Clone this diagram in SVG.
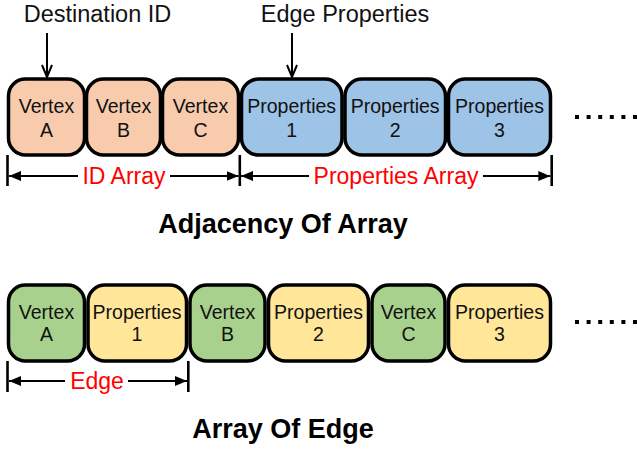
<svg xmlns="http://www.w3.org/2000/svg" width="637" height="451" viewBox="0 0 637 451">
<defs>
<style>
.box{stroke:#000;stroke-width:3.5}
.v{fill:#F8CBAD}.p{fill:#9DC3E6}.g{fill:#A9D18E}.y{fill:#FFE699}
.t{font-family:"Liberation Sans",Arial,sans-serif;font-size:19.5px;fill:#111;text-anchor:middle}
.lab{font-family:"Liberation Sans",Arial,sans-serif;font-size:23.5px;fill:#111;text-anchor:middle}
.red{font-family:"Liberation Sans",Arial,sans-serif;font-size:23px;fill:#FF0000;text-anchor:middle}
.title{font-family:"Liberation Sans",Arial,sans-serif;font-size:27px;font-weight:bold;fill:#000;text-anchor:middle}
.ln{stroke:#000;stroke-width:2;fill:none}
.tick{stroke:#000;stroke-width:2.6;fill:none}
.dots{stroke:#000;stroke-width:4;stroke-dasharray:4 7.6;fill:none}
</style>
<marker id="fa" viewBox="0 0 12 10" refX="12" refY="5" markerWidth="12" markerHeight="10" markerUnits="userSpaceOnUse" orient="auto">
<path d="M0,0 L12,5 L0,10 Z" fill="#000"/>
</marker>
<marker id="oa" viewBox="0 0 14 12" refX="13" refY="6" markerWidth="14" markerHeight="12" markerUnits="userSpaceOnUse" orient="auto">
<path d="M1,1 L13,6 L1,11" fill="none" stroke="#000" stroke-width="2"/>
</marker>
</defs>
<rect width="637" height="451" fill="#fff"/>

<text class="lab" x="97.5" y="22">Destination ID</text>
<text class="lab" x="345" y="22">Edge Properties</text>

<g id="adj-vA"><rect class="box v" x="8.5" y="79" width="76" height="76" rx="17"/><text class="t" x="46.5" y="113">Vertex</text><text class="t" x="46.5" y="137">A</text></g>
<g id="adj-vB"><rect class="box v" x="86.5" y="79" width="74" height="76" rx="17"/><text class="t" x="123.5" y="113">Vertex</text><text class="t" x="123.5" y="137">B</text></g>
<g id="adj-vC"><rect class="box v" x="162.5" y="79" width="76" height="76" rx="17"/><text class="t" x="200.5" y="113">Vertex</text><text class="t" x="200.5" y="137">C</text></g>
<g id="adj-p1"><rect class="box p" x="241.5" y="79" width="100.5" height="76" rx="17"/><text class="t" x="291.7" y="113">Properties</text><text class="t" x="291.7" y="137">1</text></g>
<g id="adj-p2"><rect class="box p" x="345" y="79" width="100.5" height="76" rx="17"/><text class="t" x="395.2" y="113">Properties</text><text class="t" x="395.2" y="137">2</text></g>
<g id="adj-p3"><rect class="box p" x="448.5" y="79" width="102" height="76" rx="17"/><text class="t" x="499.5" y="113">Properties</text><text class="t" x="499.5" y="137">3</text></g>

<g id="aoe-vA"><rect class="box g" x="8.5" y="285" width="76" height="76" rx="17"/><text class="t" x="46.5" y="319">Vertex</text><text class="t" x="46.5" y="341">A</text></g>
<g id="aoe-p1"><rect class="box y" x="88" y="285" width="98.5" height="76" rx="17"/><text class="t" x="137" y="319">Properties</text><text class="t" x="137" y="341">1</text></g>
<g id="aoe-vB"><rect class="box g" x="190" y="285" width="75" height="76" rx="17"/><text class="t" x="227.5" y="319">Vertex</text><text class="t" x="227.5" y="341">B</text></g>
<g id="aoe-p2"><rect class="box y" x="268.5" y="285" width="100" height="76" rx="17"/><text class="t" x="318.5" y="319">Properties</text><text class="t" x="318.5" y="341">2</text></g>
<g id="aoe-vC"><rect class="box g" x="372" y="285" width="73" height="76" rx="17"/><text class="t" x="408.5" y="319">Vertex</text><text class="t" x="408.5" y="341">C</text></g>
<g id="aoe-p3"><rect class="box y" x="448.5" y="285" width="102" height="76" rx="17"/><text class="t" x="499.5" y="319">Properties</text><text class="t" x="499.5" y="341">3</text></g>

<g id="connectors">
<line class="ln" x1="47" y1="33" x2="47" y2="77" marker-end="url(#oa)"/>
<line class="ln" x1="292" y1="33" x2="292" y2="77" marker-end="url(#oa)"/>

<line class="tick" x1="7.5" y1="155" x2="7.5" y2="186"/>
<line class="tick" x1="239.8" y1="155" x2="239.8" y2="186"/>
<line class="tick" x1="551.7" y1="155" x2="551.7" y2="186"/>
<line class="ln" x1="78" y1="176" x2="9" y2="176" marker-end="url(#fa)"/>
<line class="ln" x1="170" y1="176" x2="238.5" y2="176" marker-end="url(#fa)"/>
<line class="ln" x1="309" y1="176" x2="241" y2="176" marker-end="url(#fa)"/>
<line class="ln" x1="483" y1="176" x2="550.3" y2="176" marker-end="url(#fa)"/>

<line class="tick" x1="7.5" y1="361" x2="7.5" y2="392"/>
<line class="tick" x1="188.3" y1="361" x2="188.3" y2="392"/>
<line class="ln" x1="65" y1="381" x2="9" y2="381" marker-end="url(#fa)"/>
<line class="ln" x1="128" y1="381" x2="187" y2="381" marker-end="url(#fa)"/>
</g>

<line class="dots" x1="575" y1="117" x2="637" y2="117"/>
<line class="dots" x1="575" y1="322" x2="637" y2="322"/>

<text class="red" x="124" y="184">ID Array</text>
<text class="red" x="396" y="184">Properties Array</text>
<text class="red" x="97" y="389">Edge</text>

<text class="title" x="283" y="233">Adjacency Of Array</text>
<text class="title" x="283" y="438">Array Of Edge</text>
</svg>
